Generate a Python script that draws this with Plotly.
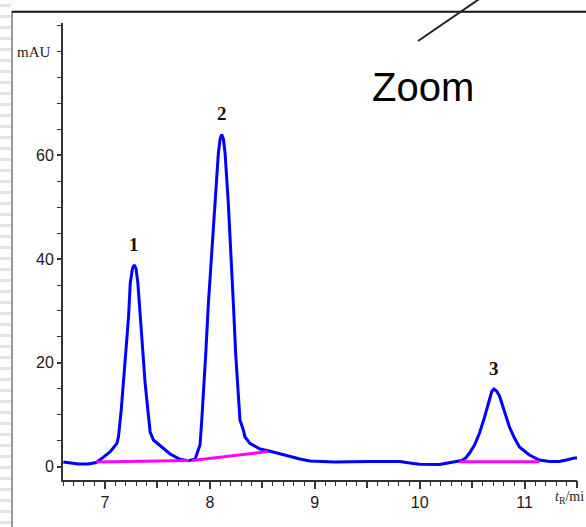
import plotly.graph_objects as go

# ---- data ----
rt = [6.603, 6.670, 6.746, 6.841, 6.917, 6.971, 7.050, 7.114, 7.129, 7.155,
      7.177, 7.200, 7.225, 7.241, 7.262, 7.279, 7.296, 7.314, 7.336, 7.358, 7.383, 7.409,
      7.431, 7.462, 7.542, 7.621, 7.716, 7.795, 7.859, 7.878, 7.906, 7.923,
      7.945, 7.961, 7.986, 8.018, 8.049, 8.081, 8.098, 8.113, 8.129, 8.145, 8.176, 8.202,
      8.224, 8.246, 8.265, 8.287, 8.319, 8.335, 8.382, 8.478, 8.557, 8.652,
      8.763, 8.858, 8.953, 9.191, 9.524, 9.810, 9.905, 10.000, 10.190, 10.333,
      10.400, 10.438, 10.476, 10.523, 10.571, 10.619, 10.666, 10.688, 10.709, 10.735, 10.761, 10.809,
      10.856, 10.904, 10.951, 11.046, 11.141, 11.236, 11.331, 11.398, 11.474, 11.532]
signal = [0.87, 0.68, 0.48, 0.48, 0.77, 1.58, 2.85, 4.47, 5.75, 10.90,
          16.10, 22.47, 28.89, 35.33, 38.2, 38.86, 38.2, 35.33, 28.89, 22.47, 16.05, 10.90,
          6.65, 5.11, 3.82, 2.41, 1.39, 1.12, 1.39, 2.60, 4.15, 8.97,
          15.39, 21.83, 31.48, 41.12, 50.76, 60.41, 63.2, 64.03, 63.2, 60.41, 50.76, 41.12,
          31.48, 21.83, 15.39, 8.97, 7.04, 5.69, 4.47, 3.38, 3.05, 2.55,
          1.83, 1.45, 1.06, 0.87, 0.96, 0.96, 0.68, 0.42, 0.39, 0.87,
          1.16, 1.64, 2.60, 4.15, 6.46, 9.55, 12.83, 14.5, 14.95, 14.5, 13.60, 10.51,
          7.62, 5.50, 3.76, 2.22, 1.25, 0.96, 0.96, 1.25, 1.64, 1.64]

baseline_t = [[6.917, 7.802], [7.831, 8.554], [10.381, 11.141]]
baseline_h = [[0.87, 1.16], [1.16, 2.89], [0.93, 0.93]]

peak_ids = ["1", "2", "3"]
peak_t = [7.279, 8.113, 10.709]
peak_h = [38.86, 64.03, 14.95]

x_tickvals = [7, 8, 9, 10, 11]
x_halfticks = [7.5, 8.5, 9.5, 10.5, 11.5]
y_tickvals = [0, 20, 40, 60]

fig = go.Figure()

fig.add_trace(go.Scatter(x=rt, y=signal, mode="lines",
                         line=dict(color="#0000ff", width=3),
                         showlegend=False, hoverinfo="skip"))
for bt, bh in zip(baseline_t, baseline_h):
    fig.add_trace(go.Scatter(x=bt, y=bh, mode="lines",
                             line=dict(color="#ff00ff", width=3),
                             showlegend=False, hoverinfo="skip"))
# invisible trace on the overlay axis carrying the half-unit ticks
fig.add_trace(go.Scatter(x=x_halfticks, y=[0] * len(x_halfticks), xaxis="x2",
                         mode="markers", marker=dict(opacity=0),
                         showlegend=False, hoverinfo="skip"))

for lab, t, h in zip(peak_ids, peak_t, peak_h):
    fig.add_annotation(x=t, y=h, text="<b>%s</b>" % lab, showarrow=False,
                       xanchor="center", yanchor="bottom", yshift=8,
                       font=dict(family="Liberation Serif", size=19, color="#111"))

# axis unit labels
fig.add_annotation(xref="paper", yref="y", x=-0.019, y=80, text="mAU", showarrow=False,
                   xanchor="right", yanchor="middle",
                   font=dict(family="Liberation Serif", size=15, color="#222"))
fig.add_annotation(xref="paper", yref="paper", x=(553 - 63) / 514, y=(480 - 497) / 457,
                   text="<i>t</i><sub>R</sub>/mi", showarrow=False,
                   xanchor="left", yanchor="middle",
                   font=dict(family="Liberation Serif", size=14, color="#222"))
fig.add_annotation(xref="paper", yref="paper", x=(423 - 63) / 514, y=(480 - 87) / 457,
                   text="Zoom", showarrow=False, xanchor="center", yanchor="middle",
                   font=dict(family="Liberation Sans", size=40, color="#000"))

def px_x(p):
    return (p - 63) / 514

def px_y(p):
    return (480 - p) / 457

shapes = []
# striped left margin
y = 5.5
while y < 527:
    shapes.append(dict(type="rect", xref="paper", yref="paper",
                       x0=px_x(0), x1=px_x(11), y0=px_y(y + 1.5), y1=px_y(y - 1.5),
                       fillcolor="#e3e3e3", line=dict(width=0), layer="below"))
    y += 11
# frame lines
shapes.append(dict(type="line", xref="paper", yref="paper", x0=px_x(12), x1=px_x(12),
                   y0=px_y(11), y1=px_y(530), line=dict(color="#9a9a9a", width=2)))
shapes.append(dict(type="line", xref="paper", yref="paper", x0=px_x(12), x1=px_x(590),
                   y0=px_y(11.7), y1=px_y(11.7), line=dict(color="#111", width=2)))
shapes.append(dict(type="line", xref="paper", yref="paper", x0=px_x(418), x1=px_x(480),
                   y0=px_y(41), y1=px_y(-1.5), line=dict(color="#222", width=2)))
fig.update_layout(shapes=shapes)

fig.update_layout(
    width=586, height=527,
    margin=dict(l=63, r=9, t=23, b=47),
    paper_bgcolor="white", plot_bgcolor="white",
    font=dict(family="Liberation Sans", size=16, color="#1a1a1a"),
    xaxis=dict(range=[6.6, 11.5], showgrid=False, zeroline=False,
               showline=True, linecolor="#333", linewidth=2,
               tickmode="array", tickvals=x_tickvals,
               ticks="outside", ticklen=7, tickwidth=1.5, tickcolor="#333",
               minor=dict(dtick=0.1, tick0=0, ticks="outside", ticklen=4,
                          tickwidth=1.2, tickcolor="#333", showgrid=False),
               fixedrange=True),
    xaxis2=dict(range=[6.6, 11.5], overlaying="x", side="bottom", anchor="y",
                showgrid=False, zeroline=False, showline=False,
                tickmode="array", tickvals=x_halfticks, showticklabels=False,
                ticks="outside", ticklen=7, tickwidth=1.5, tickcolor="#333",
                fixedrange=True),
    yaxis=dict(range=[-2.6, 85.53], showgrid=False, zeroline=False,
               showline=True, linecolor="#333", linewidth=2,
               tickmode="array", tickvals=y_tickvals,
               ticks="outside", ticklen=4, tickwidth=1.5, tickcolor="#333",
               minor=dict(dtick=5, tick0=0, ticks="outside", ticklen=4,
                          tickwidth=1.2, tickcolor="#333", showgrid=False),
               fixedrange=True),
)

fig.write_html("out.html", config={"displayModeBar": False})
